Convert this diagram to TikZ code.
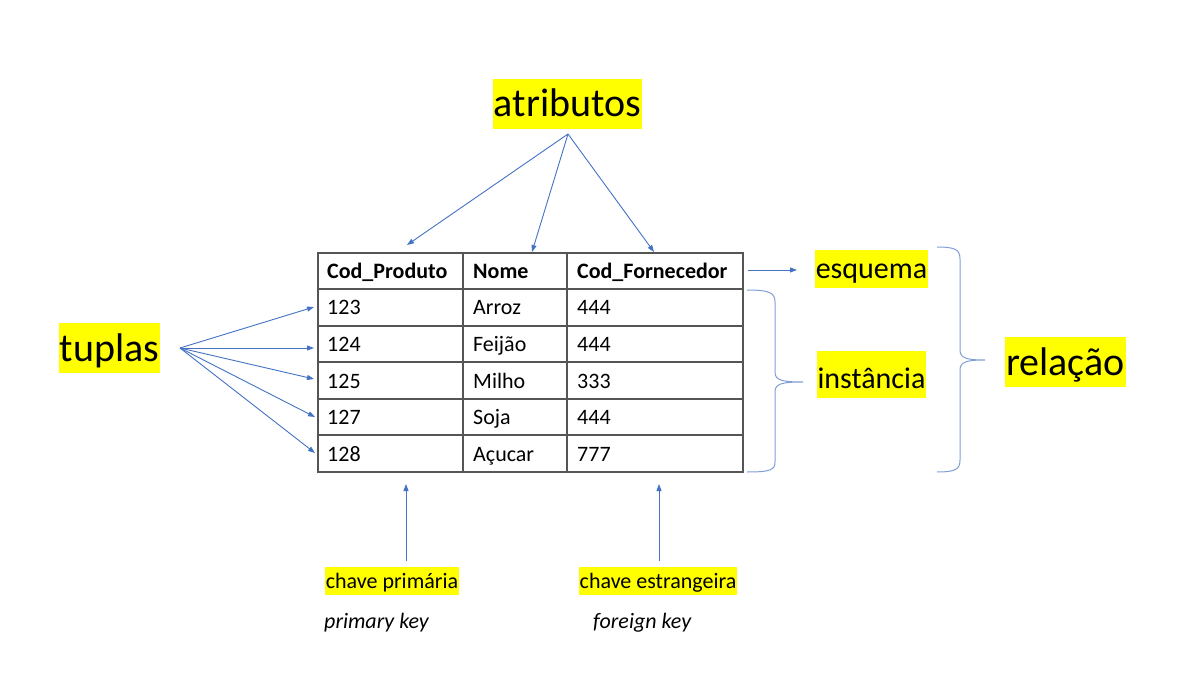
\documentclass[tikz,border=0pt]{standalone}
\usepackage{fontspec}
\setmainfont{Carlito}
\usetikzlibrary{arrows.meta}
\definecolor{arr}{HTML}{4472C4}
\definecolor{brc}{HTML}{7F9FD6}
\definecolor{hl}{HTML}{FFFF00}
\definecolor{gridc}{HTML}{555555}
\begin{document}
\begin{tikzpicture}[x=1pt,y=-1pt,
  big/.style={fill=hl, inner xsep=1pt, inner ysep=0pt, text height=38pt, text depth=12pt, font=\fontsize{40}{48}\selectfont, anchor=base},
  mid/.style={fill=hl, inner xsep=1pt, inner ysep=0pt, text height=29pt, text depth=9pt, font=\fontsize{30}{36}\selectfont, anchor=base},
  small/.style={fill=hl, inner xsep=1pt, inner ysep=0pt, text height=21pt, text depth=7pt, font=\fontsize{22}{26}\selectfont, anchor=base},
  note/.style={inner sep=0pt, anchor=base west, font=\fontsize{22}{26}\selectfont\itshape},
  cell/.style={anchor=base west, inner sep=0pt, font=\fontsize{22}{26}\selectfont},
  head/.style={anchor=base west, inner sep=0pt, font=\fontsize{22}{26}\selectfont\bfseries},
  conn/.style={draw=arr, line width=0.9pt, -{Triangle[length=7pt,width=5pt]}},
  brace/.style={draw=brc, line width=1pt},
  gridline/.style={draw=gridc, line width=1.1pt}
]
\fill[white] (0,0) rectangle (1193,692);
\useasboundingbox (0,0) rectangle (1193,692);

% table grid
\draw[gridline] (318,253) rectangle (743,472);
\foreach \yy in {289,326,362,399,435} \draw[gridline] (318,\yy) -- (743,\yy);
\foreach \xx in {463,567} \draw[gridline] (\xx,253) -- (\xx,472);

% header
\node[head] (h1) at (327,278.5) {Cod\_Produto};
\node[head] (h2) at (473,278.5) {Nome};
\node[head] (h3) at (577,278.5) {Cod\_Fornecedor};
% rows
\node[cell] (a1) at (327,315) {123};
\node[cell] (b1) at (473,315) {Arroz};
\node[cell] (c1) at (577,315) {444};
\node[cell] (a2) at (327,351.5) {124};
\node[cell] (b2) at (473,351.5) {Feijão};
\node[cell] (c2) at (577,351.5) {444};
\node[cell] (a3) at (327,388) {125};
\node[cell] (b3) at (473,388) {Milho};
\node[cell] (c3) at (577,388) {333};
\node[cell] (a4) at (327,424.5) {127};
\node[cell] (b4) at (473,424.5) {Soja};
\node[cell] (c4) at (577,424.5) {444};
\node[cell] (a5) at (327,461) {128};
\node[cell] (b5) at (473,461) {Açucar};
\node[cell] (c5) at (577,461) {777};

% labels
\node[big] (atr) at (567.5,117) {atributos};
\node[big] (tup) at (109.5,361) {tuplas};
\node[big] (rel) at (1065.5,375) {relação};
\node[mid] (esq) at (871.5,279) {esquema};
\node[mid, text height=37pt, text depth=10pt] (ins) at (871.5,388) {instância};
\node[small] (cp) at (392,588) {chave primária};
\node[small] (ce) at (658,588) {chave estrangeira};
\node[note] (pk) at (324,628) {primary key};
\node[note] (fk) at (593,628) {foreign key};

% connector coordinates
\coordinate (atro) at (568,134);
\coordinate (t1) at (407,245);
\coordinate (t2) at (532,252);
\coordinate (t3) at (654,252);
\coordinate (tupo) at (180,348);
\coordinate (r1) at (314,307);
\coordinate (r2) at (314,348);
\coordinate (r3) at (314,379);
\coordinate (r4) at (315,417);
\coordinate (r5) at (315,453);
\coordinate (esqo) at (748,270);
\coordinate (esqe) at (797,270);
\coordinate (pko) at (406,561);
\coordinate (pke) at (406,484);
\coordinate (fko) at (659,561);
\coordinate (fke) at (659,484);

\draw[conn] (atro) -- (t1);
\draw[conn] (atro) -- (t2);
\draw[conn] (atro) -- (t3);
\foreach \r in {r1,r2,r3,r4,r5} \draw[conn] (tupo) -- (\r);
\draw[conn] (esqo) -- (esqe);
\draw[conn] (pko) -- (pke);
\draw[conn] (fko) -- (fke);

% braces
\draw[brace] (747,290) .. controls (770,290) and (775,293) .. (775,302) -- (775,372) .. controls (775,380) and (781,382) .. (803,382)
  .. controls (781,382) and (775,384) .. (775,392) -- (775,462) .. controls (775,470) and (770,472) .. (747,472);
\draw[brace] (937,247) .. controls (956,247) and (960,250) .. (960,259) -- (960,350) .. controls (960,358) and (966,360) .. (985,360)
  .. controls (966,360) and (960,362) .. (960,370) -- (960,460) .. controls (960,469) and (956,472) .. (937,472);
\end{tikzpicture}
\end{document}
